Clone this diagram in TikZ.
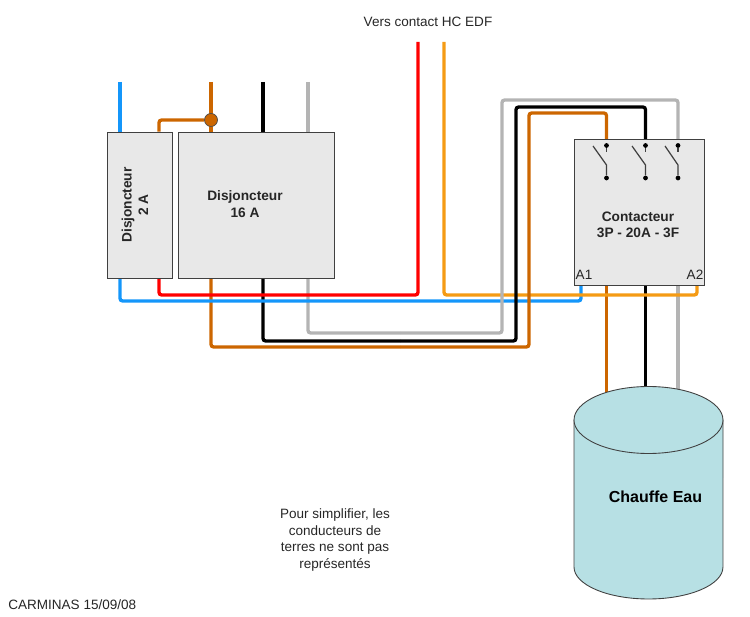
\documentclass[tikz,border=0pt]{standalone}
\usepackage{fontspec}
\setmainfont{Liberation Sans}
\usetikzlibrary{shapes.geometric, backgrounds}
\definecolor{wireblue}{RGB}{20,150,250}
\definecolor{wirebrown}{RGB}{204,102,0}
\definecolor{wiregrey}{RGB}{180,180,180}
\definecolor{wireamber}{RGB}{245,155,20}
\definecolor{tankfill}{RGB}{183,224,228}
\tikzset{
    box/.style={draw=black!75, fill=black!9, line width=0.5pt, minimum width=#1, minimum height=2.92cm, inner sep=0pt},
    wire/.style={line width=1.9pt, rounded corners=1.5pt},
    boxlabel/.style={font=\fontsize{7.8}{9.4}\selectfont\bfseries, align=center, inner sep=0pt, text=black!85},
    note/.style={font=\fontsize{7.7}{9.4}\selectfont, align=center, inner sep=0pt, text=black!85},
    terminal/.style={circle, fill=black, inner sep=0pt, minimum size=2.7pt}
}
\begin{document}
\begin{tikzpicture}[x=0.02cm, y=-0.02cm]
    \useasboundingbox (0,0) rectangle (750,617);
    % Free ends of the wires
    \coordinate (blueIn) at (120,82);
    \coordinate (brownIn) at (211,82);
    \coordinate (blackIn) at (263,82);
    \coordinate (greyIn) at (308,82);
    \coordinate (redOut) at (418,42);
    \coordinate (amberOut) at (444,42);
    \coordinate (tapIn) at (159,120);
    \coordinate (tankTop) at (648.5,420);
    % Poles of the contactor
    \coordinate (poleA) at (606.5,139);
    \coordinate (poleB) at (645.5,139);
    \coordinate (poleC) at (678,139);
    \coordinate (coilA) at (581,285);
    \coordinate (coilB) at (697,285);
    % Boxes
    \node[box=1.3cm] (dj2) at (139.5,205) {};
    \node[box=3.12cm] (dj16) at (256,205) {};
    \node[box=2.6cm] (ct) at (639,212) {};
    \node[circle, draw=black!70, fill=wirebrown, minimum size=0.26cm, inner sep=0pt] (tap) at (211,120) {};
    % Wires, under the boxes
    \begin{scope}[on background layer]
        \draw[wire, wirebrown] (brownIn) -- (brownIn |- dj16.north);
        \draw[wire, black] (blackIn) -- (blackIn |- dj16.north);
        \draw[wire, wiregrey] (greyIn) -- (greyIn |- dj16.north);
        \draw[wire, wireblue] (blueIn) -- (blueIn |- dj2.north);
        \draw[wire, wirebrown] (tapIn |- dj2.north) -- (tapIn) -- (tap);
        % Left part, under red and blue
        \draw[wire, wiregrey] (greyIn |- dj16.south) -- (308,333) -- (400,333);
        \draw[wire, black] (blackIn |- dj16.south) -- (263,341) -- (400,341);
        \draw[wire, wirebrown] (brownIn |- dj16.south) -- (211,347) -- (400,347);
        \draw[wire, red] (tapIn |- dj2.south) -- (159,295) -- (418,295) -- (redOut);
        \draw[wire, wireblue] (blueIn |- dj2.south) -- (120,301) -- (581,301) -- (coilA);
        % Down to the heater, under amber
        \draw[wire, wiregrey] (poleC |- ct.south) -- (poleC |- tankTop);
        \draw[wire, black] (poleB |- ct.south) -- (poleB |- tankTop);
        \draw[wire, wirebrown] (poleA |- ct.south) -- (poleA |- tankTop);
        \draw[wire, wireamber] (amberOut) -- (444,295) -- (697,295) -- (coilB);
        % Right part, over amber and blue
        \draw[wire, wiregrey] (400,333) -- (502,333) -- (502,100) -- (678,100) -- (poleC);
        \draw[wire, black] (400,341) -- (516,341) -- (516,107) -- (645.5,107) -- (poleB);
        \draw[wire, wirebrown] (400,347) -- (529,347) -- (529,113) -- (606.5,113) -- (poleA);
    \end{scope}
    % Box labels
    \node[boxlabel, rotate=90] (dj2Label) at (135,205) {Disjoncteur\\2 A};
    \node[boxlabel] (dj16Label) at (245,204) {Disjoncteur\\16 A};
    \node[boxlabel] (ctLabel) at (638,225) {Contacteur\\3P - 20A - 3F};
    \node[note] (a1) at (584,275) {A1};
    \node[note] (a2) at (695,275) {A2};
    % Switches of the contactor
    \foreach \i/\bx/\sx in {A/606.5/593, B/645.5/632, C/678/665} {
        \node[terminal] (top\i) at (\bx,145.5) {};
        \node[terminal] (bot\i) at (\bx,178) {};
        \draw[line width=0.7pt, black!75] (top\i) -- (\bx,152);
        \draw[line width=0.7pt, black!75] (bot\i) -- (\bx,165) -- (\sx,146);
    }
    % Water heater
    \draw[draw=black!75, fill=tankfill, line width=0.5pt] (574,420) -- (574,567)
        arc[start angle=180, end angle=360, x radius=1.49cm, y radius=0.64cm] -- (723,420) -- cycle;
    \node[draw=black!75, fill=tankfill, line width=0.5pt, ellipse, minimum width=2.98cm, minimum height=1.34cm, inner sep=0pt] (tank) at (tankTop) {};
    \node[font=\fontsize{9.1}{11}\selectfont\bfseries, inner sep=0pt] (tankLabel) at (655.5,497) {Chauffe Eau};
    % Notes
    \node[note] (hcNote) at (428,22) {Vers contact HC EDF};
    \node[note] (earthNote) at (335,540) {Pour simplifier, les\\conducteurs de\\terres ne sont pas\\représentés};
    \node[note, anchor=west] (signNote) at (8,605) {CARMINAS 15/09/08};
\end{tikzpicture}
\end{document}
